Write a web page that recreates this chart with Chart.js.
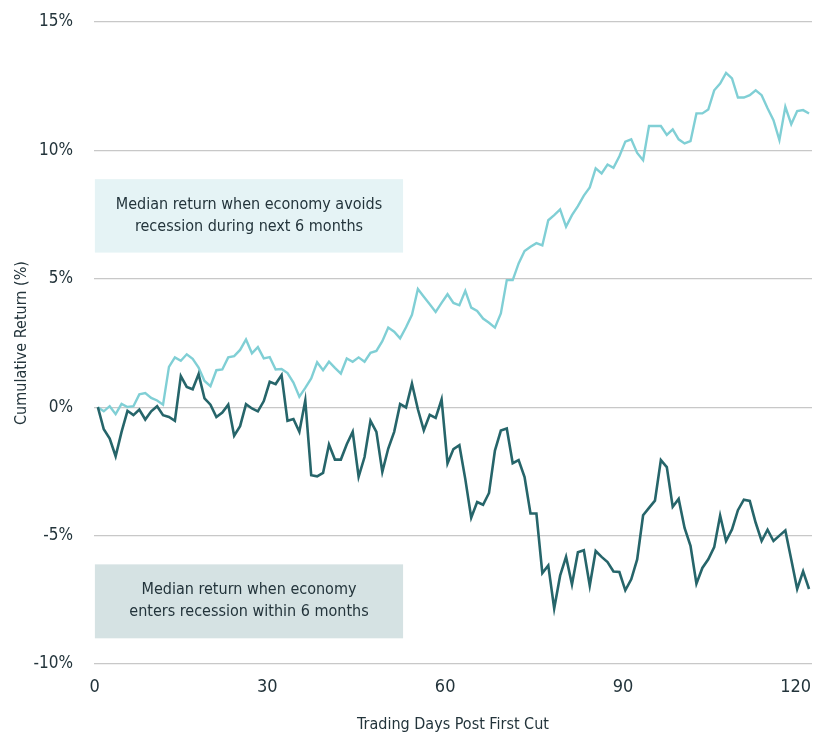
<!DOCTYPE html>
<html>
<head>
<meta charset="utf-8">
<script src="https://cdn.jsdelivr.net/npm/chart.js@4"></script>
<style>
  html, body { margin: 0; padding: 0; background: #fff; }
  #wrap { width: 815px; height: 735px; }
</style>
</head>
<body>
<div id="wrap"><canvas id="returnChart" width="815" height="735"></canvas></div>
<script>
/* --------- データ --------- */
// 利下げ後 0〜120 営業日の累積リターン（%）、1 営業日ごと
const avoidsRecession = [
  0, -0.16, 0.04, -0.27, 0.13, 0.01, 0.04, 0.50, 0.55, 0.36,
  0.26, 0.10, 1.57, 1.94, 1.81, 2.06, 1.88, 1.54, 1.02, 0.82,
  1.44, 1.47, 1.94, 1.99, 2.23, 2.64, 2.10, 2.34, 1.90, 1.95,
  1.47, 1.49, 1.33, 0.96, 0.41, 0.75, 1.12, 1.75, 1.44, 1.77,
  1.53, 1.31, 1.90, 1.77, 1.94, 1.77, 2.12, 2.19, 2.57, 3.10,
  2.94, 2.68, 3.11, 3.60, 4.60, 4.30, 4.01, 3.71, 4.06, 4.40,
  4.06, 3.97, 4.53, 3.88, 3.75, 3.45, 3.29, 3.10, 3.65, 4.95,
  4.95, 5.60, 6.08, 6.25, 6.39, 6.30, 7.28, 7.48, 7.70, 7.03,
  7.48, 7.83, 8.24, 8.56, 9.30, 9.10, 9.45, 9.32, 9.77, 10.34,
  10.43, 9.90, 9.62, 10.95, 10.95, 10.95, 10.60, 10.82, 10.43, 10.27,
  10.36, 11.44, 11.44, 11.59, 12.34, 12.60, 13.02, 12.80, 12.06, 12.06,
  12.15, 12.34, 12.15, 11.64, 11.18, 10.40, 11.70, 11.02, 11.53, 11.57,
  11.44,
];

const entersRecession = [
  0, -0.86, -1.22, -1.91, -0.96, -0.14, -0.31, -0.09, -0.48, -0.16,
  0.04, -0.31, -0.38, -0.53, 1.21, 0.79, 0.70, 1.29, 0.34, 0.10,
  -0.38, -0.21, 0.10, -1.11, -0.74, 0.12, -0.05, -0.16, 0.24, 0.99,
  0.90, 1.25, -0.53, -0.46, -0.96, 0.26, -2.65, -2.69, -2.56, -1.45,
  -2.04, -2.04, -1.44, -0.96, -2.71, -1.94, -0.53, -0.96, -2.52, -1.61,
  -0.96, 0.12, -0.01, 0.92, -0.08, -0.90, -0.30, -0.42, 0.30, -2.19,
  -1.63, -1.48, -2.80, -4.30, -3.69, -3.80, -3.34, -1.69, -0.91, -0.83,
  -2.18, -2.06, -2.72, -4.14, -4.14, -6.46, -6.16, -7.84, -6.56, -5.83,
  -6.90, -5.65, -5.57, -6.95, -5.60, -5.83, -6.03, -6.40, -6.42, -7.13,
  -6.70, -5.93, -4.21, -3.92, -3.64, -2.06, -2.33, -3.88, -3.57, -4.70,
  -5.40, -6.87, -6.26, -5.92, -5.45, -4.22, -5.21, -4.76, -4.01, -3.60,
  -3.65, -4.50, -5.21, -4.77, -5.21, -5.00, -4.80, -5.93, -7.08, -6.39,
  -7.08,
];

// 目盛り
const xTicks = [0, 30, 60, 90, 120];
const yTicks = [-10, -5, 0, 5, 10, 15];

// 注記テキスト
const avoidsNote = ["Median return when economy avoids", "recession during next 6 months"];
const entersNote = ["Median return when economy", "enters recession within 6 months"];

/* --------- 見た目 --------- */
const FONT = '"Liberation Sans Narrow", "DejaVu Sans Condensed", sans-serif';
const TEXT_COLOR = "#23343b";
const LIGHT = "#80cfd5";
const DARK = "#26656a";

// 注記ボックス（データ座標で範囲を指定）
const noteBoxes = [
  { lines: avoidsNote, x0: -0.5, x1: 51.5, y0: 6.02, y1: 8.88, fill: "#e5f3f5" },
  { lines: entersNote, x0: -0.5, x1: 51.5, y0: -9.0, y1: -6.12, fill: "#d5e2e3" },
];

// 折れ線の下に注記ボックスを描くプラグイン
const notePlugin = {
  id: "notes",
  beforeDatasetsDraw(chart) {
    const { ctx, scales: { x, y } } = chart;
    ctx.save();
    noteBoxes.forEach((b) => {
      const left = x.getPixelForValue(b.x0);
      const right = x.getPixelForValue(b.x1);
      const top = y.getPixelForValue(b.y1);
      const bottom = y.getPixelForValue(b.y0);
      ctx.fillStyle = b.fill;
      ctx.fillRect(left, top, right - left, bottom - top);

      ctx.fillStyle = TEXT_COLOR;
      ctx.font = "16px " + FONT;
      ctx.textAlign = "center";
      ctx.textBaseline = "middle";
      const cx = (left + right) / 2;
      const cy = (top + bottom) / 2;
      const lh = 22;
      b.lines.forEach((t, i) => {
        ctx.fillText(t, cx, cy + (i - (b.lines.length - 1) / 2) * lh);
      });
    });
    ctx.restore();
  },
};

function toPoints(values) {
  return values.map((v, i) => ({ x: i, y: v }));
}

/* --------- グラフ --------- */
new Chart(document.getElementById("returnChart"), {
  type: "line",
  data: {
    datasets: [
      {
        label: "Enters recession",
        data: toPoints(entersRecession),
        borderColor: DARK,
        borderWidth: 2.6,
        pointRadius: 0,
        tension: 0,
      },
      {
        label: "Avoids recession",
        data: toPoints(avoidsRecession),
        borderColor: LIGHT,
        borderWidth: 2.4,
        pointRadius: 0,
        tension: 0,
      },
    ],
  },
  options: {
    responsive: false,
    animation: false,
    layout: { padding: { top: 22, right: 3, bottom: 0, left: 0 } },
    plugins: { legend: { display: false }, tooltip: { enabled: false } },
    scales: {
      x: {
        type: "linear",
        min: -0.65,
        max: 120.5,
        afterBuildTicks: (s) => { s.ticks = xTicks.map((v) => ({ value: v })); },
        afterFit: (s) => {
          s.height = 71;
          s.paddingLeft = 0;
          s.paddingRight = 0;
        },
        grid: { display: false, drawTicks: false },
        border: { display: false },
        ticks: {
          align: "end",
          labelOffset: 2,
          padding: 13,
          color: TEXT_COLOR,
          font: { family: FONT, size: 18 },
        },
        title: {
          display: true,
          text: "Trading Days Post First Cut",
          color: TEXT_COLOR,
          font: { family: FONT, size: 16 },
          padding: { top: 0, bottom: 1 },
        },
      },
      y: {
        min: -10,
        max: 15,
        afterBuildTicks: (s) => { s.ticks = yTicks.map((v) => ({ value: v })); },
        afterFit: (s) => {
          s.width = 94;
          s.paddingTop = 0;
          s.paddingBottom = 0;
        },
        grid: { color: "#c8c8c8", lineWidth: 1.2, drawTicks: false },
        border: { display: false },
        ticks: {
          padding: 21,
          color: TEXT_COLOR,
          font: { family: FONT, size: 17 },
          callback: (v) => v + "%",
        },
        title: {
          display: true,
          text: "Cumulative Return (%)",
          color: TEXT_COLOR,
          font: { family: FONT, size: 16 },
          padding: { top: 12, bottom: 0 },
        },
      },
    },
  },
  plugins: [notePlugin],
});
</script>
</body>
</html>
